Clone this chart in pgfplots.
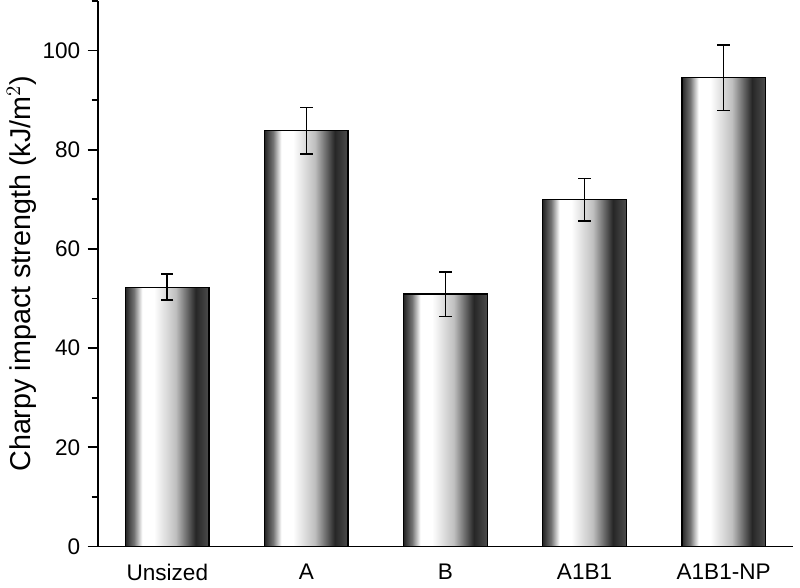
\documentclass[border=0pt]{standalone}
\usepackage{pgfplots}
\pgfplotsset{compat=1.18}
\usepackage{fontspec}
\setmainfont{Liberation Sans}
\pgfdeclarehorizontalshading{barshade}{100bp}{color(0bp)=(black!85); color(25bp)=(black!85); color(30bp)=(black!55); color(35bp)=(white); color(42bp)=(white); color(55bp)=(black!25); color(67bp)=(black!85); color(75bp)=(black!70); color(100bp)=(black!70)}
\pgfplotsset{mybar/.style={ybar, bar width=0.6, bar shift=0pt, draw=black, line width=0.6pt, shading=barshade,
  error bars/.cd, y dir=both, y explicit, error bar style={line width=0.8pt, black},
  error mark options={rotate=90, mark size=3pt, line width=0.8pt}}}
\begin{document}
\begin{tikzpicture}
\begin{axis}[
  scale only axis, width=339pt, height=266pt,
  xmin=-0.5, xmax=4.5, ymin=0, ymax=110,
  axis x line*=bottom, axis y line*=left,
  axis line style={line width=0.9pt},
  xtick={0,...,4}, xticklabels={Unsized,A,B,A1B1,A1B1-NP},
  extra x ticks={0.5,1.5,2.5,3.5,4.5}, extra x tick labels={},
  extra x tick style={major tick length=4pt, tick style={line width=0.9pt}},
  x tick style={draw=none},
  ytick={0,20,...,100}, minor ytick={10,30,...,110},
  y tick style={line width=0.9pt, black}, major tick length=5pt, minor tick length=3pt,
  tick align=outside,
  /pgf/number format/assume math mode=true,
  ticklabel style={font=\fontsize{11}{13}\selectfont},
  ylabel={Charpy impact strength (kJ/m$^{2}$)},
  ylabel style={font=\fontsize{14}{16}\selectfont, yshift=-4pt},
]
\addplot[mybar] coordinates {(0,52.3) +- (0,2.6)};
\addplot[mybar] coordinates {(1,83.8) +- (0,4.7)};
\addplot[mybar] coordinates {(2,50.9) +- (0,4.5)};
\addplot[mybar] coordinates {(3,69.9) +- (0,4.3)};
\addplot[mybar] coordinates {(4,94.5) +- (0,6.6)};
\end{axis}
\end{tikzpicture}
\end{document}
